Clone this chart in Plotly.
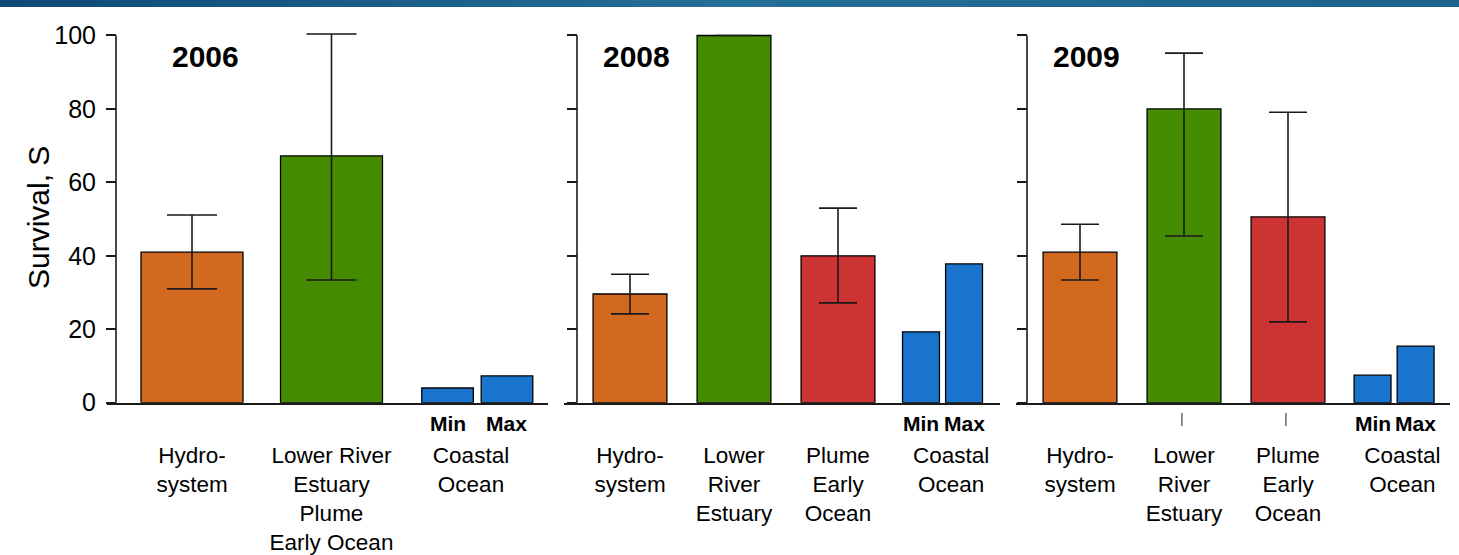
import plotly.graph_objects as go

# ---------------------------------------------------------------- data
years = ["2006", "2008", "2009"]

labels_2006 = ["Hydro-<br>system", "Lower River<br>Estuary<br>Plume<br>Early Ocean",
               "Coastal<br>Ocean"]
labels_2008 = ["Hydro-<br>system", "Lower<br>River<br>Estuary", "Plume<br>Early<br>Ocean",
               "Coastal<br>Ocean"]
labels_2009 = ["Hydro-<br>system", "Lower<br>River<br>Estuary", "Plume<br>Early<br>Ocean",
               "Coastal<br>Ocean"]

# survival (%) per segment with lower / upper interval limits
survival_2006 = [41.0, 67.2]
lower_2006 = [31.0, 33.4]
upper_2006 = [51.1, 100.4]
coastal_2006 = [4.0, 7.3]          # min, max

survival_2008 = [29.6, 100.0, 40.0]
lower_2008 = [24.2, None, 27.2]
upper_2008 = [35.0, None, 53.0]
coastal_2008 = [19.3, 37.8]

survival_2009 = [41.0, 80.0, 50.6]
lower_2009 = [33.4, 45.4, 22.0]
upper_2009 = [48.6, 95.2, 79.1]
coastal_2009 = [7.5, 15.4]

coastal_labels = ["Min", "Max"]
y_ticks = [0, 20, 40, 60, 80, 100]
y_tick_text = ["0", "20", "40", "60", "80", "100"]

# ---------------------------------------------------------------- style
W, H = 1459, 555
FONT = "Arial, Liberation Sans, sans-serif"
INK = "#1a1a1a"
segment_colors = ["#D2691E", "#458B00", "#CD3333"]
coastal_color = "#1874CD"

# vertical scale: pixel row of the zero line and pixels per survival unit
Y0_PX, PX_PER_UNIT, Y_MAX = 402.7, 3.672, 102
y_domain = [(H - Y0_PX) / H, (H - (Y0_PX - Y_MAX * PX_PER_UNIT)) / H]

# panel geometry in pixels; bar slots sit at integer x positions
panels = [
    dict(left=107, right=548, axis=116, first=192, step=139.5, bar_w=0.731,
         pair_c=2.045, pair_off=0.213, pair_w=0.37, coastal_tick=2.0, cap=25, year_x=0.097),
    dict(left=564, right=1000, axis=577, first=630, step=104, bar_w=0.71,
         pair_c=3.005, pair_off=0.207, pair_w=0.355, coastal_tick=3.087, cap=19, year_x=0.067),
    dict(left=1016, right=1450, axis=1027, first=1080, step=104, bar_w=0.71,
         pair_c=3.02, pair_off=0.207, pair_w=0.355, coastal_tick=3.10, cap=19, year_x=0.067),
]

series = [
    (labels_2006, survival_2006, lower_2006, upper_2006, coastal_2006),
    (labels_2008, survival_2008, lower_2008, upper_2008, coastal_2008),
    (labels_2009, survival_2009, lower_2009, upper_2009, coastal_2009),
]

fig = go.Figure()
layout = dict(
    width=W, height=H, margin=dict(l=0, r=0, t=0, b=0, pad=0), autosize=False,
    template="none",
    paper_bgcolor="white", plot_bgcolor="white", showlegend=False,
    barmode="overlay", font=dict(family=FONT, color="black"),
)
shapes, annotations = [], []

for i, (p, year, (labels, surv, lo, hi, coastal)) in enumerate(zip(panels, years, series)):
    sfx = "" if i == 0 else str(i + 1)
    xa, ya = "x" + sfx, "y" + sfx
    n = len(surv)
    xs = list(range(n))
    plus = [None if h is None else h - s for s, h in zip(surv, hi)]
    minus = [None if l is None else s - l for s, l in zip(surv, lo)]

    fig.add_trace(go.Bar(
        x=xs, y=surv, width=p["bar_w"], xaxis=xa, yaxis=ya,
        marker=dict(color=segment_colors[:n], line=dict(color="black", width=1.3)),
        error_y=dict(type="data", symmetric=False, array=plus, arrayminus=minus,
                     color=INK, thickness=1.6, width=p["cap"]),
        hoverinfo="skip",
    ))
    pair_x = [p["pair_c"] - p["pair_off"], p["pair_c"] + p["pair_off"]]
    fig.add_trace(go.Bar(
        x=pair_x, y=coastal, width=p["pair_w"], xaxis=xa, yaxis=ya,
        marker=dict(color=coastal_color, line=dict(color="black", width=1.3)),
        hoverinfo="skip",
    ))

    x_range = [(p["left"] - p["first"]) / p["step"], (p["right"] - p["first"]) / p["step"]]
    layout["xaxis" + sfx] = dict(
        domain=[p["left"] / W, p["right"] / W], range=x_range, anchor=ya,
        automargin=False,
        showline=True, linecolor=INK, linewidth=1.6, showgrid=False, zeroline=False,
        ticks="", tickvals=xs + [p["coastal_tick"]], ticktext=labels,
        tickfont=dict(size=22.5, family=FONT, color="black"), ticklabelstandoff=31,
        fixedrange=True,
    )
    layout["yaxis" + sfx] = dict(
        domain=y_domain, range=[0, Y_MAX], anchor="free", position=p["axis"] / W,
        automargin=False,
        showline=False, showgrid=False, zeroline=False,
        ticks="outside", ticklen=10, tickwidth=1.6, tickcolor=INK,
        tickvals=y_ticks, ticktext=y_tick_text, showticklabels=(i == 0),
        tickfont=dict(size=25, family=FONT, color="black"), ticklabelstandoff=5,
        fixedrange=True,
    )
    # y axis line from 0 to 100
    shapes.append(dict(type="line", xref="paper", yref=ya,
                       x0=p["axis"] / W, x1=p["axis"] / W, y0=0, y1=y_ticks[-1],
                       line=dict(color=INK, width=1.6)))

    # year heading
    annotations.append(dict(text="<b>%s</b>" % year, xref=xa, yref=ya, x=p["year_x"], y=94.2,
                            showarrow=False, xanchor="center", yanchor="middle",
                            font=dict(size=30, family=FONT, color="black")))
    # Min / Max under the coastal pair
    for px, txt in zip(pair_x, coastal_labels):
        annotations.append(dict(text="<b>%s</b>" % txt, xref=xa, yref="paper", x=px,
                                y=(H - 423) / H, showarrow=False, xanchor="center",
                                yanchor="middle",
                                font=dict(size=21, family=FONT, color="black")))

# stray tick marks below the 2009 estuary and plume bars
for xpos in [0.98, 1.98]:
    shapes.append(dict(type="line", xref="x3", yref="paper", x0=xpos, x1=xpos,
                       y0=(H - 413) / H, y1=(H - 426) / H,
                       line=dict(color="#444", width=1.2)))

# y axis title
annotations.append(dict(text="Survival, S", xref="paper", yref="paper", x=38 / W,
                        y=(H - 218) / H, textangle=-90, showarrow=False,
                        xanchor="center", yanchor="middle",
                        font=dict(size=30, family=FONT, color="black")))

# blue banner along the top edge (stepped gradient)
stops = [(0.0, (14, 74, 117)), (0.5, (36, 111, 154)), (1.0, (28, 98, 142))]
n_strips = 60
for k in range(n_strips):
    t = (k + 0.5) / n_strips
    if t <= 0.5:
        a, b, f = stops[0][1], stops[1][1], t / 0.5
    else:
        a, b, f = stops[1][1], stops[2][1], (t - 0.5) / 0.5
    c = tuple(round(a[j] + (b[j] - a[j]) * f) for j in range(3))
    shapes.append(dict(type="rect", xref="paper", yref="paper",
                       x0=k / n_strips, x1=(k + 1) / n_strips + 0.002,
                       y0=1 - 7 / H, y1=1, line=dict(width=0),
                       fillcolor="rgb(%d,%d,%d)" % c, layer="above"))

layout["shapes"] = shapes
layout["annotations"] = annotations
fig.update_layout(**layout)
fig.write_html("out.html", config={"displayModeBar": False})
